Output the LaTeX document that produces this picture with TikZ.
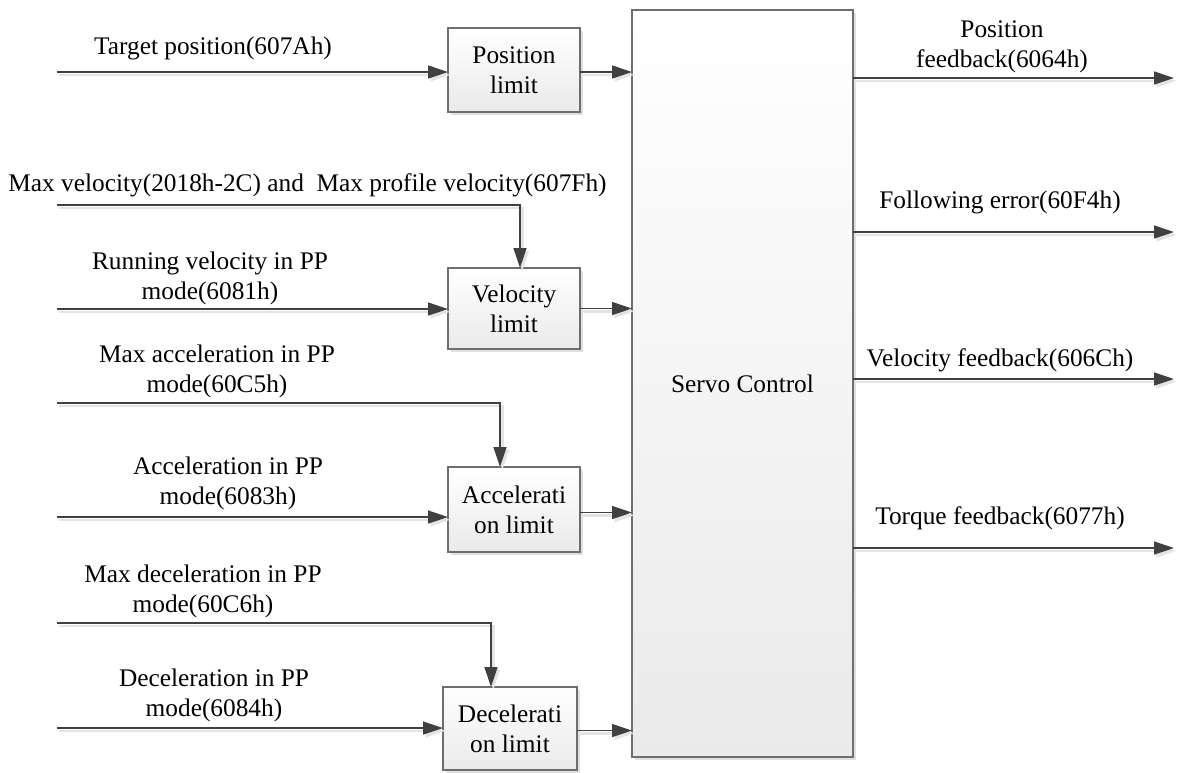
\documentclass[tikz,border=0pt]{standalone}
\usepackage{fontspec}
\setmainfont{Liberation Serif}
\usetikzlibrary{arrows.meta,shadows}
\definecolor{wire}{HTML}{404040}
\definecolor{wireshade}{HTML}{E4E4E4}
\definecolor{frame}{HTML}{6E6E6E}
\definecolor{boxbottom}{HTML}{EAEAEA}
\begin{document}
\begin{tikzpicture}[x=0.5pt,y=-0.5pt,
  every node/.style={font=\fontsize{12.67pt}{15pt}\selectfont},
  blk/.style={draw=frame, line width=0.6pt, top color=white, bottom color=boxbottom,
    inner sep=0pt, outer sep=0pt, align=center,
    drop shadow={shadow xshift=1.6pt, shadow yshift=-1.6pt, fill=black!12, opacity=1}},
  flow/.style={draw=wire, line width=0.65pt, -{Triangle[length=10pt,width=6.5pt]},
    preaction={draw=wireshade, line width=1.2pt, -{Triangle[length=10pt,width=6.5pt]},
      transform canvas={shift={(1.2pt,-1.4pt)}}}},
  lbl/.style={align=center, inner sep=0pt}
]
\useasboundingbox (0,0) rectangle (1178,772);

% processing blocks
\node[blk, minimum width=110.5pt, minimum height=373.5pt] (servo) at (742.5,383.5) {Servo Control};
\node[blk, minimum width=66pt, minimum height=42pt] (pos) at (514,70) {Position\\limit};
\node[blk, minimum width=66pt, minimum height=40.5pt] (vel) at (514,308.5) {Velocity\\limit};
\node[blk, minimum width=66pt, minimum height=42.5pt] (acc) at (514,509.5) {Accelerati\\on limit};
\node[blk, minimum width=67pt, minimum height=41.5pt] (dec) at (510,728.5) {Decelerati\\on limit};

% free ends of the input and output wires
\coordinate (tp) at (57,72);
\coordinate (mv) at (57,205);
\coordinate (rv) at (57,309);
\coordinate (ma) at (57,403);
\coordinate (av) at (57,517);
\coordinate (md) at (57,623);
\coordinate (dv) at (57,728);
\coordinate (o1) at (1174,78);
\coordinate (o2) at (1174,232);
\coordinate (o3) at (1174,379);
\coordinate (o4) at (1174,548);

% exit points of the limit blocks
\coordinate (posout) at ([yshift=-1pt]pos.east);
\coordinate (velout) at (vel.east);
\coordinate (accout) at ([yshift=-1.5pt]acc.east);
\coordinate (decout) at ([yshift=-1pt]dec.east);

% inputs into the limit blocks
\draw[flow] (tp) -- (pos.west |- tp);
\draw[flow] (mv) -| ([xshift=3pt]vel.north);
\draw[flow] (rv) -- (vel.west |- rv);
\draw[flow] (ma) -| ([xshift=-7pt]acc.north);
\draw[flow] (av) -- (acc.west |- av);
\draw[flow] (md) -| ([xshift=-9.5pt]dec.north);
\draw[flow] (dv) -- (dec.west |- dv);

% limit blocks into the servo control
\draw[flow] (posout) -- (servo.west |- posout);
\draw[flow] (velout) -- (servo.west |- velout);
\draw[flow] (accout) -- (servo.west |- accout);
\draw[flow] (decout) -- (servo.west |- decout);

% feedback outputs
\draw[flow] (servo.east |- o1) -- (o1);
\draw[flow] (servo.east |- o2) -- (o2);
\draw[flow] (servo.east |- o3) -- (o3);
\draw[flow] (servo.east |- o4) -- (o4);

% input labels
\node[lbl] (ltp) at (213,48) {Target position(607Ah)};
\node[lbl, anchor=west] (lmv) at (8,185) {Max velocity(2018h-2C) and\ \ Max profile velocity(607Fh)};
\node[lbl] (lrv) at (210,278) {Running velocity in PP\\mode(6081h)};
\node[lbl] (lma) at (217,371) {Max acceleration in PP\\mode(60C5h)};
\node[lbl] (lav) at (228,483) {Acceleration in PP\\mode(6083h)};
\node[lbl] (lmd) at (203,591) {Max deceleration in PP\\mode(60C6h)};
\node[lbl] (ldv) at (214,695.5) {Deceleration in PP\\mode(6084h)};

% output labels
\node[lbl] (lo1) at (1002,47) {Position\\feedback(6064h)};
\node[lbl] (lo2) at (1000,202) {Following error(60F4h)};
\node[lbl] (lo3) at (1000,360) {Velocity feedback(606Ch)};
\node[lbl] (lo4) at (1000,518) {Torque feedback(6077h)};
\end{tikzpicture}
\end{document}
